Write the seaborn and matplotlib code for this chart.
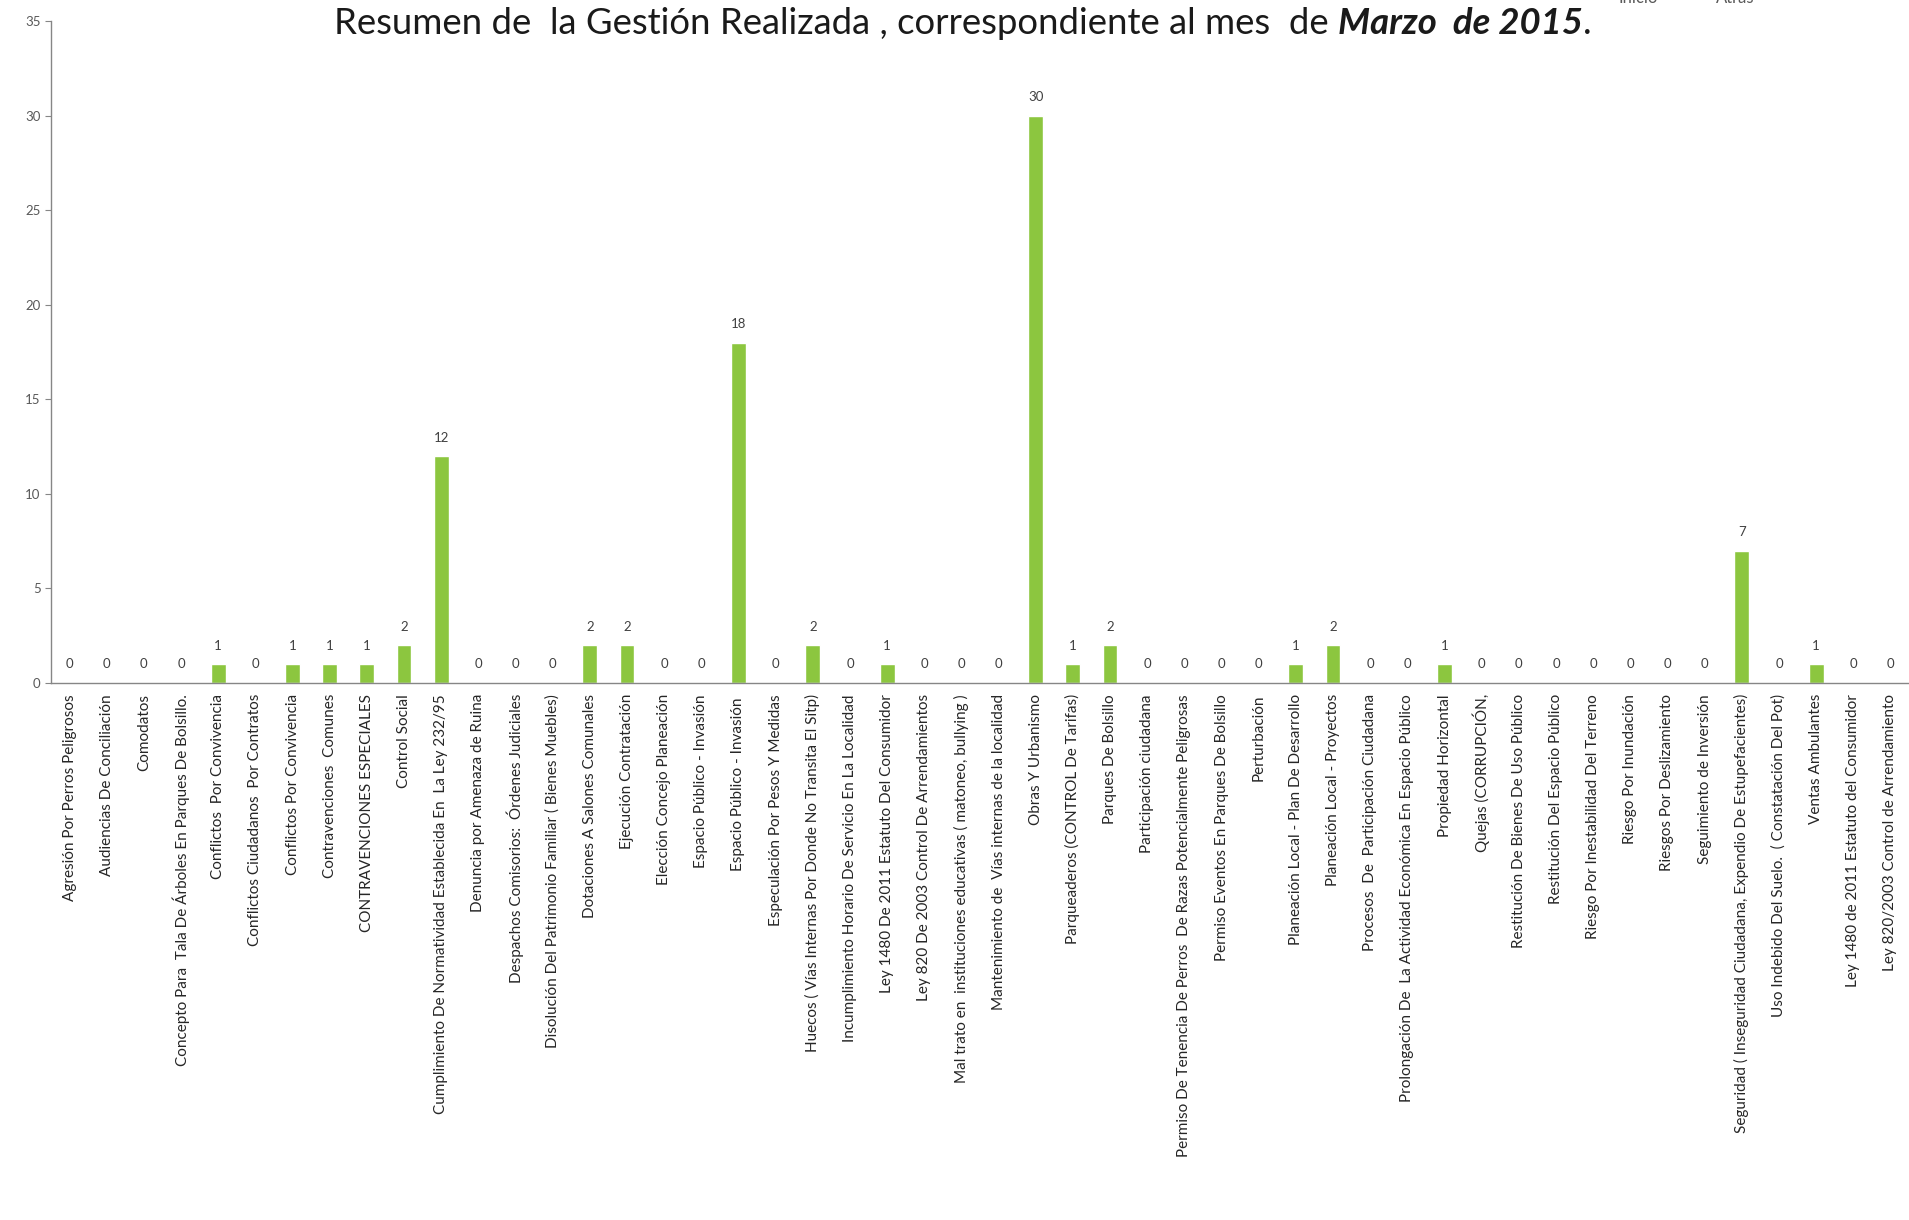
import matplotlib
matplotlib.use('Agg')
import matplotlib.pyplot as plt
from matplotlib import font_manager
import seaborn as sns

# categories in the order shown on the x axis
categorias = [
    'Agresión Por Perros Peligrosos',
    'Audiencias De Conciliación',
    'Comodatos',
    'Concepto Para  Tala De Árboles En Parques De Bolsillo.',
    'Conflictos  Por Convivencia',
    'Conflictos Ciudadanos  Por Contratos',
    'Conflictos Por Convivencia',
    'Contravenciones  Comunes',
    'CONTRAVENCIONES ESPECIALES',
    'Control Social',
    'Cumplimiento De Normatividad Establecida En  La Ley 232/95',
    'Denuncia por Amenaza de Ruina',
    'Despachos Comisorios:  Órdenes Judiciales',
    'Disolución Del Patrimonio Familiar ( Bienes Muebles)',
    'Dotaciones A Salones Comunales',
    'Ejecución Contratación',
    'Elección Concejo Planeación',
    'Espacio Público - Invasión',
    'Espacio Público - Invasión ',
    'Especulación Por Pesos Y Medidas',
    'Huecos ( Vías Internas Por Donde No Transita El Sitp)',
    'Incumplimiento Horario De Servicio En La Localidad',
    'Ley 1480 De 2011 Estatuto Del Consumidor',
    'Ley 820 De 2003 Control De Arrendamientos',
    'Mal trato en  instituciones educativas ( matoneo, bullying )',
    'Mantenimiento de  Vías internas de la localidad',
    'Obras Y Urbanismo',
    'Parqueaderos (CONTROL De Tarifas)',
    'Parques De Bolsillo',
    'Participación ciudadana',
    'Permiso De Tenencia De Perros  De Razas Potencialmente Peligrosas',
    'Permiso Eventos En Parques De Bolsillo',
    'Perturbación',
    'Planeación Local - Plan De Desarrollo',
    'Planeación Local - Proyectos',
    'Procesos  De  Participación Ciudadana',
    'Prolongación De  La Actividad Económica En Espacio Público',
    'Propiedad Horizontal',
    'Quejas (CORRUPCIÓN,',
    'Restitución De Bienes De Uso Público',
    'Restitución Del Espacio Público',
    'Riesgo Por Inestabilidad Del Terreno',
    'Riesgo Por Inundación',
    'Riesgos Por Deslizamiento',
    'Seguimiento de Inversión',
    'Seguridad ( Inseguridad Ciudadana, Expendio De Estupefacientes)',
    'Uso Indebido Del Suelo.  ( Constatación Del Pot)',
    'Ventas Ambulantes',
    'Ley 1480 de 2011 Estatuto del Consumidor',
    'Ley 820/2003 Control de Arrendamiento',
]
casos = [0, 0, 0, 0, 1, 0, 1, 1, 1, 2,
         12, 0, 0, 0, 2, 2, 0, 0, 18, 0,
         2, 0, 1, 0, 0, 0, 30, 1, 2, 0,
         0, 0, 0, 1, 2, 0, 0, 1, 0, 0,
         0, 0, 0, 0, 0, 7, 0, 1, 0, 0]
y_ticks = [0, 5, 10, 15, 20, 25, 30, 35]

titulo_normal = 'Resumen de  la Gestión Realizada , correspondiente al mes  de '
titulo_negrita = 'Marzo  de 2015'

instalados = set(f.name for f in font_manager.fontManager.ttflist)
fuente = 'Lato' if 'Lato' in instalados else 'DejaVu Sans'
tam_ticks = 11 if fuente == 'Lato' else 10.2

sns.set_style('white')
plt.rcParams['font.family'] = [fuente, 'DejaVu Sans']

W, H = 1909, 1220
fig = plt.figure(figsize=(W / 100, H / 100), dpi=100)
ax = fig.add_axes([51 / W, 1 - 683 / H, 1 - 51 / W, (683 - 21) / H])

posiciones = list(range(len(casos)))
sns.barplot(x=posiciones, y=casos, color='#8CC63F', saturation=1, width=0.4, ax=ax)
ax.bar_label(ax.containers[0], fmt='%d', padding=9, fontsize=9.5, color='#404040')

ax.set_xlim(-0.5, 49.3)
ax.set_ylim(0, 35)
ax.set_yticks(y_ticks)
ax.set_yticklabels([str(v) for v in y_ticks], fontsize=9.5, color='#595959')
ax.set_xticks(posiciones)
ax.set_xticklabels(categorias, rotation=90, fontsize=tam_ticks, color='#262626')
ax.tick_params(axis='x', length=0, pad=8)
ax.set_xticks([p - 0.5 for p in posiciones] + [49.5], minor=True)
ax.tick_params(axis='x', which='minor', length=4, color='#868686', direction='out')
ax.tick_params(axis='y', length=4, color='#868686', direction='out', left=True)
ax.set_xlabel('')
ax.set_ylabel('')
for lado in ['top', 'right']:
    ax.spines[lado].set_visible(False)
for lado in ['left', 'bottom']:
    ax.spines[lado].set_color('#868686')
    ax.spines[lado].set_linewidth(1)

# title: normal part plus bold italic part, centred together, about 1257 px wide
yb = 1 - 34 / H
t1 = fig.text(0, yb, titulo_normal, fontsize=24, va='baseline', ha='left', color='#1a1a1a')
t2 = fig.text(0, yb, titulo_negrita, fontsize=24, va='baseline', ha='left', color='#1a1a1a',
              fontweight='bold', fontstyle='italic')
t3 = fig.text(0, yb, '.', fontsize=24, va='baseline', ha='left', color='#1a1a1a')
fig.canvas.draw()
r = fig.canvas.get_renderer()
total = sum(t.get_window_extent(r).width for t in (t1, t2, t3))
escala = 1257 / total
for t in (t1, t2, t3):
    t.set_fontsize(24 * escala)
fig.canvas.draw()
w1 = t1.get_window_extent(r).width
w2 = t2.get_window_extent(r).width
w3 = t3.get_window_extent(r).width
x0 = 963 - (w1 + w2 + w3) / 2
t1.set_x(x0 / W)
t2.set_x((x0 + w1) / W)
t3.set_x((x0 + w1 + w2) / W)

# navigation buttons cut off at the top
fig.text(1638 / W, 1 - 3 / H, 'Inicio', fontsize=12, ha='center', va='baseline', color='#595959')
fig.text(1735 / W, 1 - 3 / H, 'Atrás', fontsize=12, ha='center', va='baseline', color='#595959')

fig.savefig('out.png', dpi=100)
